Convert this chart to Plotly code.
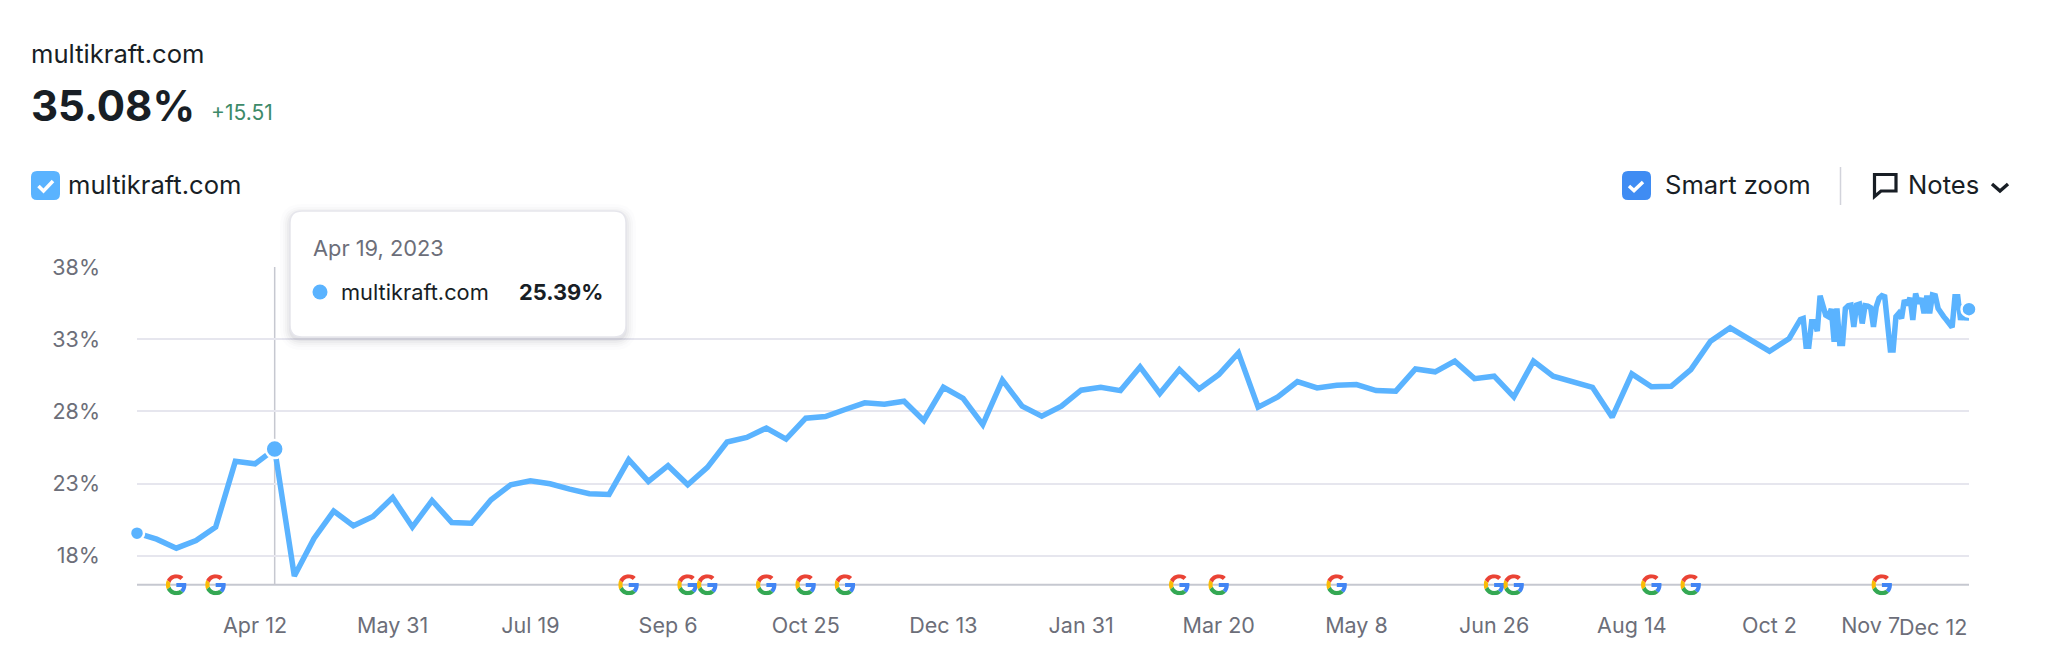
import base64
import pandas as pd
import plotly.graph_objects as go

# ---------- data ----------
site = "multikraft.com"
weekly_dates = pd.date_range("2023-03-01", "2024-10-09", freq="7D")
weekly_values = [
    19.57, 19.15, 18.53, 19.06, 19.99, 24.54, 24.37, 25.39, 16.6, 19.2,
    21.1, 20.08, 20.72, 22.04, 19.99, 21.83, 20.31, 20.26, 21.88, 22.92,
    23.2, 22.99, 22.62, 22.3, 22.25, 24.65, 23.15, 24.24, 22.92, 24.12,
    25.88, 26.2, 26.85, 26.08, 27.53, 27.64, 28.13, 28.59, 28.5, 28.7,
    27.37, 29.67, 28.91, 27.09, 30.16, 28.36, 27.67, 28.36, 29.47, 29.67,
    29.44, 31.08, 29.24, 30.9, 29.56, 30.55, 32.05, 28.29, 29.0, 30.07,
    29.63, 29.81, 29.86, 29.44, 29.4, 30.94, 30.74, 31.48, 30.27, 30.44,
    29.0, 31.48, 30.44, 30.04, 29.67, 27.6, 30.6, 29.7, 29.74, 30.9,
    32.86, 33.79, 33.02, 32.17, 33.05,
]
daily_dates = pd.date_range("2024-10-13", "2024-12-12", freq="D")
daily_values = [
    34.37, 34.44, 32.52, 32.52, 34.21, 34.21, 33.56, 36.01, 35.36, 34.67,
    34.56, 35.09, 32.82, 35.13, 32.71, 32.71, 35.13, 35.32, 35.36, 33.86,
    35.36, 35.43, 34.09, 35.32, 35.29, 35.18, 33.86, 35.25, 35.83, 36.01,
    35.94, 33.98, 32.25, 32.25, 34.56, 34.79, 34.44, 35.71, 35.36, 35.87,
    34.33, 36.17, 35.48, 35.83, 34.79, 36.01, 34.79, 36.06, 36.01, 35.13,
    34.79, 34.56, 34.33, 34.09, 33.82, 35.94, 35.94, 34.33, 35.36, 34.33,
    35.08,
]
dates = list(weekly_dates) + list(daily_dates)
values = weekly_values + daily_values

y_ticks = [18, 23, 28, 33, 38]
y_labels = ["18%", "23%", "28%", "33%", "38%"]
x_ticks = ["2023-04-12", "2023-05-31", "2023-07-19", "2023-09-06", "2023-10-25",
           "2023-12-13", "2024-01-31", "2024-03-20", "2024-05-08", "2024-06-26",
           "2024-08-14", "2024-10-02", "2024-11-07"]
x_labels = ["Apr 12", "May 31", "Jul 19", "Sep 6", "Oct 25", "Dec 13", "Jan 31",
            "Mar 20", "May 8", "Jun 26", "Aug 14", "Oct 2", "Nov 7"]
last_label = "Dec 12"
google_updates = ["2023-03-15", "2023-03-29", "2023-08-23", "2023-09-13", "2023-09-20",
                  "2023-10-11", "2023-10-25", "2023-11-08", "2024-03-06", "2024-03-20",
                  "2024-05-01", "2024-06-26", "2024-07-03", "2024-08-21", "2024-09-04",
                  "2024-11-11"]
hover_index = 7

# ---------- styling ----------
W, H = 2048, 672
L, R, T, B = 137, 1969, 267, 610
BLUE = "#5AB3FF"
DARK = "#181E25"
GREY = "#6C6E79"
FONT = "Inter"
PX_PER_PCT = 14.44
PX_PER_DAY = (R - L) / 652
TICK_SIZE = 21.5


def fx(x):
    return (x - L) / (R - L)


def fy(y):
    return (B - y) / (B - T)


def rrect(x0, y0, x1, y1, r):
    a, b, c, d = fx(x0), fy(y0), fx(x1), fy(y1)
    rx, ry = r / (R - L), r / (B - T)
    return (f"M{a+rx},{b} L{c-rx},{b} Q{c},{b} {c},{b-ry} L{c},{d+ry} Q{c},{d} {c-rx},{d} "
            f"L{a+rx},{d} Q{a},{d} {a},{d+ry} L{a},{b-ry} Q{a},{b} {a+rx},{b} Z")


def poly(points, close=False):
    s = "M" + " L".join(f"{fx(x)},{fy(y)}" for x, y in points)
    return s + (" Z" if close else "")


def shape_path(path, fill="rgba(0,0,0,0)", line=None, width=0, layer="above"):
    return dict(type="path", xref="paper", yref="paper", path=path, fillcolor=fill,
                line=dict(color=line or "rgba(0,0,0,0)", width=width), layer=layer)


def text(s, x, y, size, color=DARK, anchor="left", bold=False):
    return dict(text=f"<b>{s}</b>" if bold else s, xref="paper", yref="paper", x=fx(x), y=fy(y),
                xanchor=anchor, yanchor="middle", showarrow=False,
                font=dict(family=FONT, size=size, color=color), borderpad=0, borderwidth=0)


G_SVG = ('<svg xmlns="http://www.w3.org/2000/svg" viewBox="0 0 48 48">'
         '<path fill="#EA4335" d="M24 9.5c3.54 0 6.71 1.22 9.21 3.6l6.85-6.85C35.9 2.38 30.47 0 24 0 14.62 0 6.51 5.38 2.56 13.22l7.98 6.19C12.43 13.72 17.74 9.5 24 9.5z"/>'
         '<path fill="#4285F4" d="M46.98 24.55c0-1.57-.15-3.09-.38-4.55H24v9.02h12.94c-.58 2.96-2.26 5.48-4.78 7.18l7.73 6c4.51-4.18 7.09-10.36 7.09-17.65z"/>'
         '<path fill="#FBBC05" d="M10.53 28.59c-.48-1.45-.76-2.99-.76-4.59s.27-3.14.76-4.59l-7.98-6.19C.92 16.46 0 20.12 0 24c0 3.88.92 7.54 2.56 10.78l7.97-6.19z"/>'
         '<path fill="#34A853" d="M24 48c6.48 0 11.93-2.13 15.89-5.81l-7.73-6c-2.15 1.45-4.92 2.3-8.16 2.3-6.26 0-11.57-4.22-13.47-9.91l-7.98 6.19C6.51 42.62 14.62 48 24 48z"/>'
         '</svg>')
G_URI = "data:image/svg+xml;base64," + base64.b64encode(G_SVG.encode()).decode()

fig = go.Figure()
fig.add_trace(go.Scatter(x=dates, y=values, mode="lines", cliponaxis=False,
                         line=dict(color=BLUE, width=5.5), hoverinfo="skip"))
marked = [0, hover_index, len(values) - 1]
fig.add_trace(go.Scatter(x=[dates[i] for i in marked], y=[values[i] for i in marked],
                         mode="markers", cliponaxis=False, hoverinfo="skip",
                         marker=dict(color=BLUE, opacity=1, size=[14, 18, 15],
                                     line=dict(color="#FFFFFF", width=2.5))))

shapes = [
    # baseline and hover line, tied to the data scales
    dict(type="line", xref="paper", yref="y", x0=0, x1=1, y0=16, y1=16, layer="below",
         line=dict(color="#C6C8D0", width=2)),
    dict(type="line", xref="x", yref="y", x0=dates[hover_index], x1=dates[hover_index], y0=16, y1=38,
         layer="below", line=dict(color="#C6C8D0", width=1.5)),
]
# tooltip shadow + box
for grow, alpha in [(10, 0.012), (7, 0.018), (5, 0.025), (3, 0.03), (1, 0.04)]:
    shapes.append(shape_path(rrect(290 - grow, 211 - grow + 3, 626 + grow, 337 + grow + 3, 12 + grow),
                             fill=f"rgba(30,35,60,{alpha})"))
shapes.append(shape_path(rrect(290, 211, 626, 337, 12), fill="#FFFFFF", line="#E6E6EC", width=1.5))
shapes.append(dict(type="circle", xref="paper", yref="paper", x0=fx(312.5), x1=fx(327.5),
                   y0=fy(299.5), y1=fy(284.5), fillcolor=BLUE, line=dict(width=0), layer="above"))
# checkboxes
shapes.append(shape_path(rrect(31, 171, 60, 200, 6), fill=BLUE))
shapes.append(shape_path(poly([(38.5, 186), (43.5, 191), (53, 181)]), line="#FFFFFF", width=3.5))
shapes.append(shape_path(rrect(1622, 171, 1651, 200, 6), fill="#3F8CF3"))
shapes.append(shape_path(poly([(1629, 186), (1634, 190.5), (1643, 182)]), line="#FFFFFF", width=3.5))
# divider, notes icon, chevron
shapes.append(shape_path(poly([(1840.5, 167), (1840.5, 205)]), line="#D2D3DB", width=1.5))
shapes.append(shape_path(poly([(1874.5, 174.5), (1896, 174.5), (1896, 191), (1881, 191), (1874.5, 196.5)], True),
                         line=DARK, width=3.2))
shapes.append(shape_path(poly([(1992, 184), (2000, 191), (2008, 184)]), line=DARK, width=3.4))

annotations = [
    text(site, 31, 53, 25.6),
    text("35.08%", 31, 105, 42, bold=True),
    text("+15.51", 211, 113, 21, color="#3D8A69"),
    text(site, 68, 185, 25.6),
    text("Smart zoom", 1665, 185, 25.6),
    text("Notes", 1908, 185, 25.6),
    text("Apr 19, 2023", 313, 248, 21.8, color=GREY),
    text(site, 341, 292, 21.8),
    text("25.39%", 603, 292, 21.8, anchor="right", bold=True),
    dict(text=last_label, xref="x", yref="paper", x=dates[-1], y=fy(626.5), xanchor="right",
         yanchor="middle", showarrow=False, font=dict(family=FONT, size=TICK_SIZE, color=GREY)),
]

images = [dict(source=G_URI, xref="x", yref="y", x=d, y=16, sizex=21 / PX_PER_DAY * 86400000,
               sizey=21 / PX_PER_PCT, xanchor="center", yanchor="middle", sizing="stretch",
               layer="above") for d in google_updates]

fig.update_layout(
    width=W, height=H, autosize=False,
    margin=dict(l=L, r=W - R, t=T, b=H - B, pad=0),
    paper_bgcolor="#FFFFFF", plot_bgcolor="#FFFFFF", showlegend=False,
    font=dict(family=FONT, color=GREY, size=TICK_SIZE),
    shapes=shapes, annotations=annotations, images=images,
    xaxis=dict(type="date", range=["2023-03-01", "2024-12-12"], tickmode="array", tickvals=x_ticks,
               ticktext=x_labels, showgrid=False, zeroline=False, showline=False, ticks="",
               tickangle=0, tickfont=dict(family=FONT, size=TICK_SIZE, color=GREY), automargin=False),
    yaxis=dict(range=[38 - (B - T) / PX_PER_PCT, 38], tickmode="array", tickvals=y_ticks, ticktext=y_labels,
               showgrid=True, gridcolor="#E6E6EE", gridwidth=2, zeroline=False, showline=False, ticks="",
               ticklabelstandoff=36, tickfont=dict(family=FONT, size=TICK_SIZE, color=GREY), automargin=False),
)

fig.write_html("out.html", config=dict(displayModeBar=False),
               post_script="document.body.style.margin='0';document.body.style.overflow='hidden';")
